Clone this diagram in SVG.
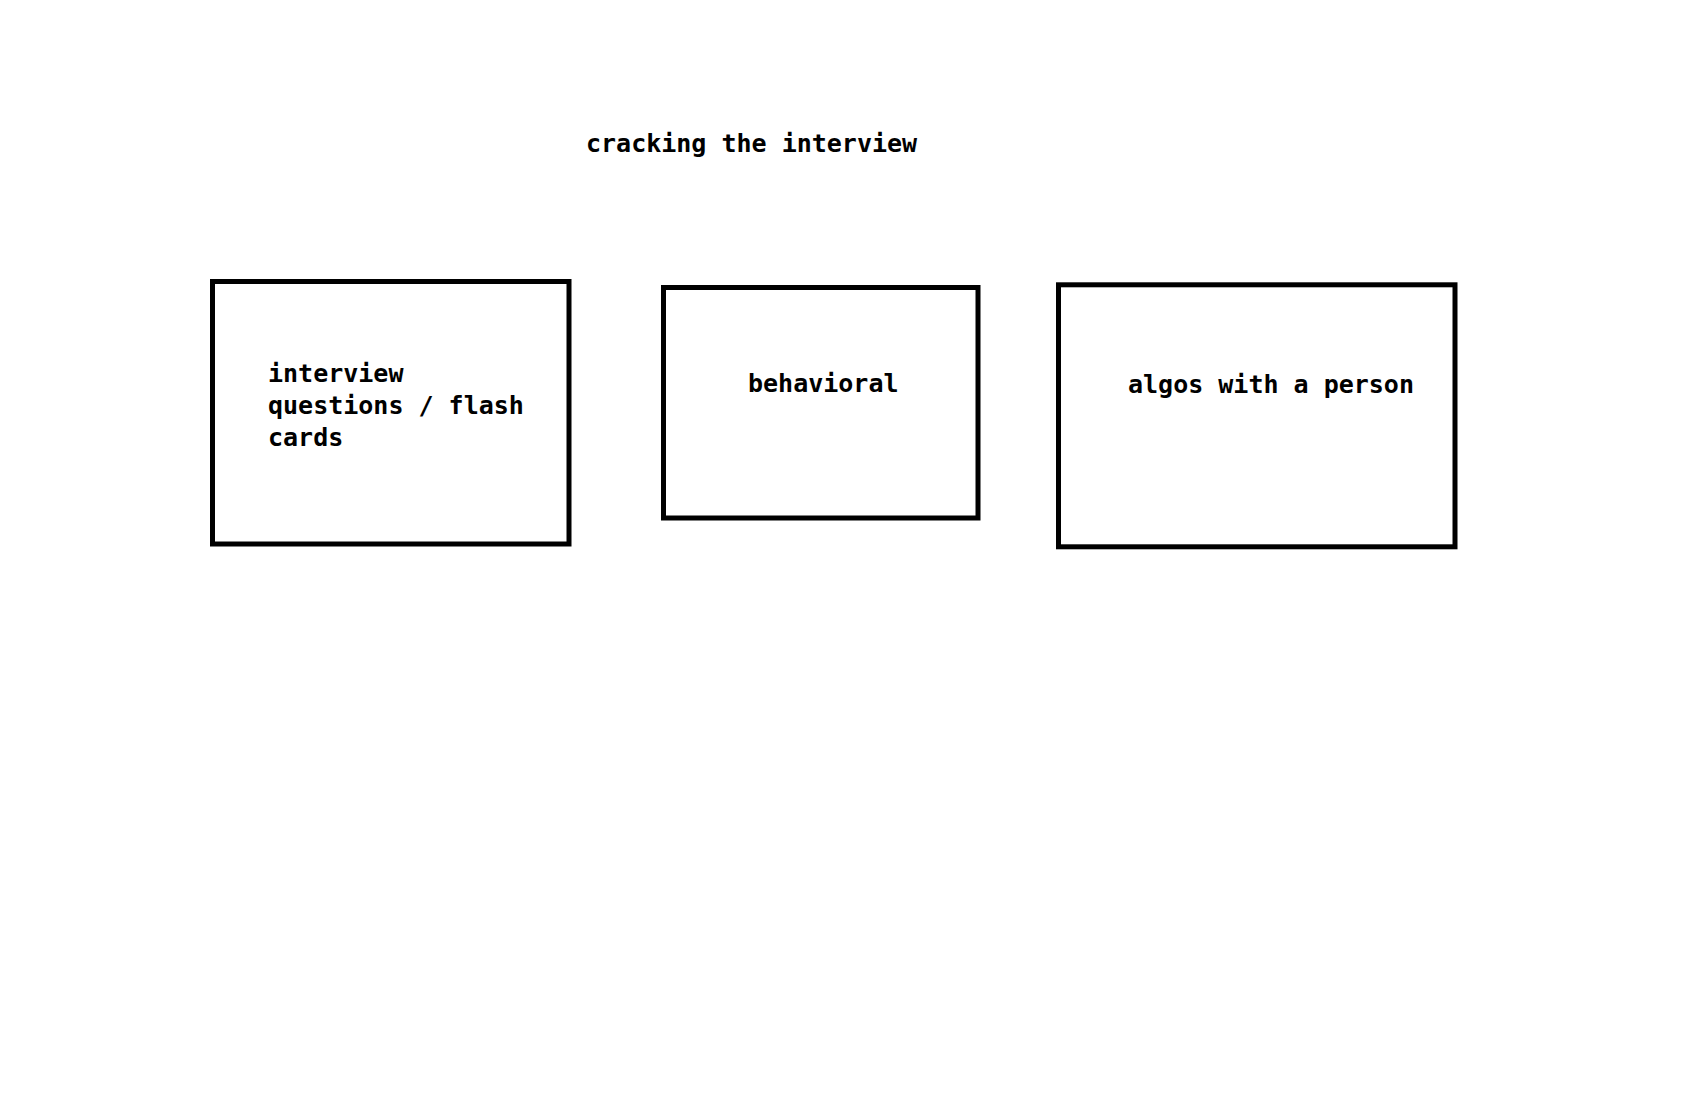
<svg xmlns="http://www.w3.org/2000/svg" width="1700" height="1118" viewBox="0 0 1700 1118">
<style>
.box{fill:none;stroke:#000;stroke-width:5}
.t{font-family:"DejaVu Sans Mono","Liberation Mono",monospace;font-weight:bold;font-size:25px;fill:#000}
</style>
<rect width="1700" height="1118" fill="#fff"/>
<g id="title"><text class="t" x="586" y="152">cracking the interview</text></g>
<g id="node-interview-questions">
<rect class="box" x="212.5" y="281.5" width="356.5" height="262.5"/>
<text class="t" x="268" y="382">interview</text>
<text class="t" x="268" y="414">questions / flash</text>
<text class="t" x="268" y="446">cards</text>
</g>
<g id="node-behavioral">
<rect class="box" x="663.5" y="287.5" width="314.5" height="230.5"/>
<text class="t" x="748" y="392">behavioral</text>
</g>
<g id="node-algos">
<rect class="box" x="1058.5" y="284.8" width="396.5" height="262"/>
<text class="t" x="1128" y="393">algos with a person</text>
</g>
<g id="connectors"></g>
</svg>
